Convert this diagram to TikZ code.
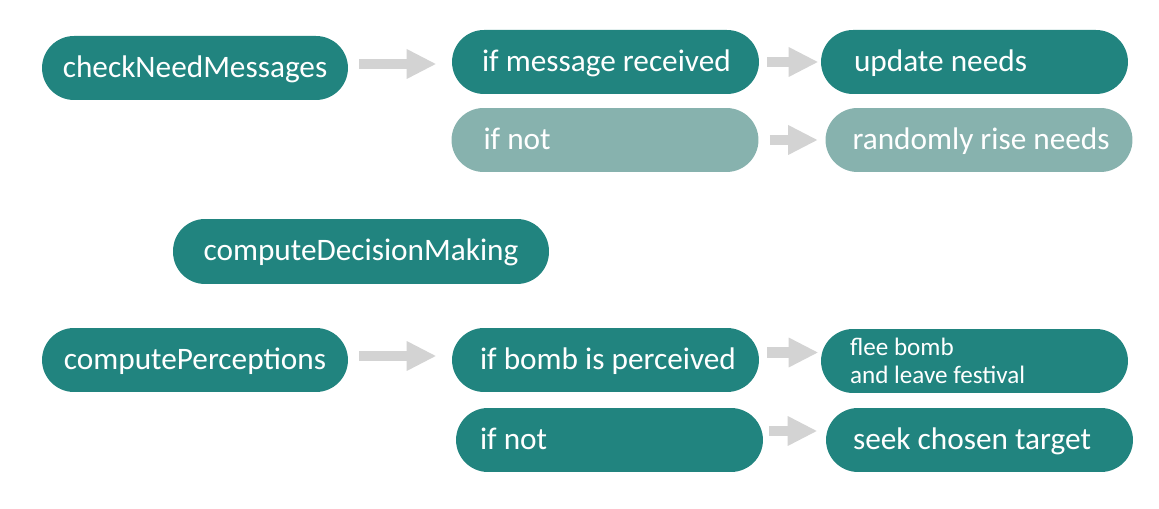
\documentclass[tikz,border=0pt]{standalone}
\usepackage{fontspec}
\setmainfont{Carlito}
\usetikzlibrary{arrows.meta}
\definecolor{stepteal}{RGB}{33,132,127}
\definecolor{steplight}{RGB}{135,178,174}
\definecolor{arrowgrey}{RGB}{211,211,211}
\tikzset{
	pill/.style={fill=stepteal, text=white, rounded corners=0.64cm, minimum height=1.28cm, inner ysep=0pt,
		font=\fontsize{17.8}{21}\selectfont, text height=13.9pt, text depth=3.1pt},
	callpill/.style={pill, minimum width=#1, inner xsep=0pt, align=center},
	casepill/.style={pill, inner xsep=0pt, text width=6.14cm, align=flush left,
		execute at begin node={\leftskip=#1}},
	flowarrow/.style={draw=arrowgrey, line width=0.21cm, -{Triangle[length=0.58cm, width=0.6cm, line width=0pt]}}
}
\begin{document}
\begin{tikzpicture}
		[x=0.02cm, y=-0.02cm]
		\useasboundingbox (0,0) rectangle (1159,509);
		% checking the need messages
		\node[callpill=6.12cm] (check) at (195,68) {checkNeedMessages};
		\node[casepill=0.6cm] (ifmsg) at (605.5,62) {if message received};
		\node[casepill=0.66cm] (update) at (974.5,62) {update needs};
		\node[casepill=0.64cm, fill=steplight] (ifnot1) at (605,140) {if not};
		\node[casepill=0.54cm, fill=steplight] (rise) at (979,140) {randomly rise needs};
		% decision making
		\node[callpill=7.52cm, minimum height=1.3cm] (decide) at (361,251.5) {computeDecisionMaking};
		% perceptions
		\node[callpill=6.12cm] (percept) at (195,360) {computePerceptions};
		\node[casepill=0.56cm] (ifbomb) at (605.5,360) {if bomb is perceived};
		\node[casepill=0.58cm, font=\fontsize{14.3}{16}\selectfont, text height=10pt, text depth=16.8pt] (flee) at (974.5,361) {flee bomb\\and leave festival};
		\node[casepill=0.48cm] (ifnot2) at (609.5,440) {if not};
		\node[casepill=0.54cm] (seek) at (979.5,440) {seek chosen target};
		% arrows
		\draw[flowarrow, shorten <=0.22cm, shorten >=0.32cm] ([yshift=0.08cm]check.east) -- ([yshift=0.08cm]check.east -| ifmsg.west);
		\draw[flowarrow, shorten <=0.16cm, shorten >=0.06cm] (ifmsg.east) -- (update.west);
		\draw[flowarrow, shorten <=0.22cm, shorten >=0.16cm] (ifnot1.east) -- (rise.west);
		\draw[flowarrow, shorten <=0.22cm, shorten >=0.32cm] ([yshift=0.08cm]percept.east) -- ([yshift=0.08cm]percept.east -| ifbomb.west);
		\draw[flowarrow, shorten <=0.16cm, shorten >=0.06cm] ([yshift=0.15cm]ifbomb.east) -- ([yshift=0.15cm]ifbomb.east -| flee.west);
		\draw[flowarrow, shorten <=0.12cm, shorten >=0.18cm] ([yshift=0.18cm]ifnot2.east) -- ([yshift=0.18cm]ifnot2.east -| seek.west);
	\end{tikzpicture}
\end{document}
